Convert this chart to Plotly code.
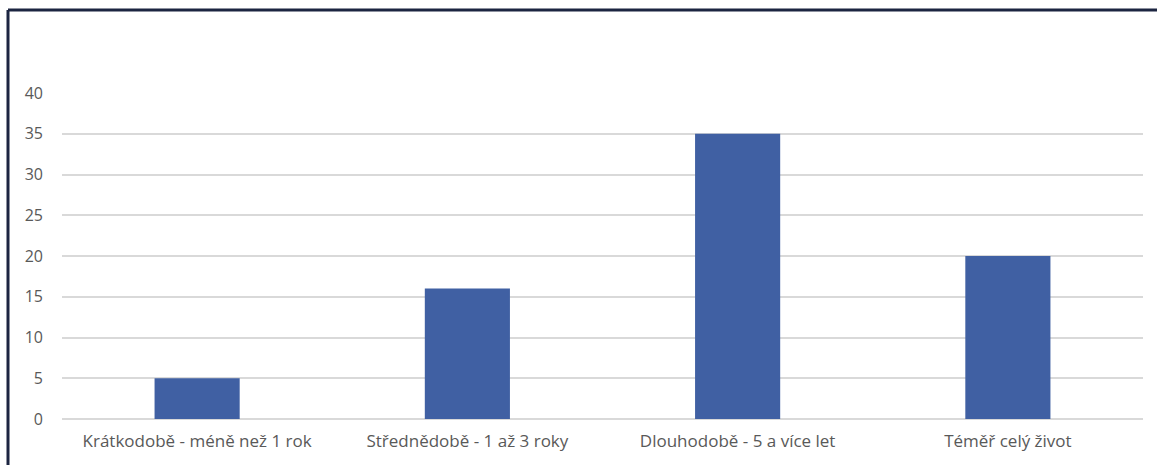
import plotly.graph_objects as go

# Doba trvání – počty odpovědí
categories = ["Krátkodobě - méně než 1 rok", "Střednědobě - 1 až 3 roky",
              "Dlouhodobě - 5 a více let", "Téměř celý život"]
values = [5, 16, 35, 20]
y_ticks = [0, 5, 10, 15, 20, 25, 30, 35, 40]

W, H = 1157, 465
L, R, T, B = 62, 14, 93, 46
pw, ph = W - L - R, H - T - B

fig = go.Figure(
    go.Bar(
        x=categories,
        y=values,
        marker=dict(color="#4060A3", line=dict(width=0)),
        width=0.315,
    )
)

xfont = dict(family="Open Sans, Lato, sans-serif", size=17, color="#595959")
yfont = dict(family="Open Sans, Lato, sans-serif", size=16, color="#595959")

fig.update_layout(
    width=W,
    height=H,
    margin=dict(l=L, r=R, t=T, b=B),
    paper_bgcolor="white",
    plot_bgcolor="white",
    showlegend=False,
    font=yfont,
    xaxis=dict(showgrid=False, showline=False, ticks="", tickfont=xfont,
               ticklabelstandoff=10),
    yaxis=dict(
        range=[0, 40],
        tickvals=y_ticks,
        showgrid=True,
        gridcolor="#D9D9D9",
        gridwidth=1.5,
        zeroline=True,
        zerolinecolor="#D9D9D9",
        zerolinewidth=1.5,
        showline=False,
        ticks="",
        ticklabelstandoff=18,
        tickfont=yfont,
    ),
)

# Outer frame (top and left edges)
fx = (8 - L) / pw
fy = (H - B - 10) / ph
frame = dict(type="line", xref="paper", yref="paper",
             line=dict(color="#1C2541", width=3), layer="above")
fig.add_shape(**frame, x0=fx, y0=fy, x1=1.1, y1=fy)
fig.add_shape(**frame, x0=fx, y0=fy, x1=fx, y1=-0.3)

fig.write_html("out.html")
